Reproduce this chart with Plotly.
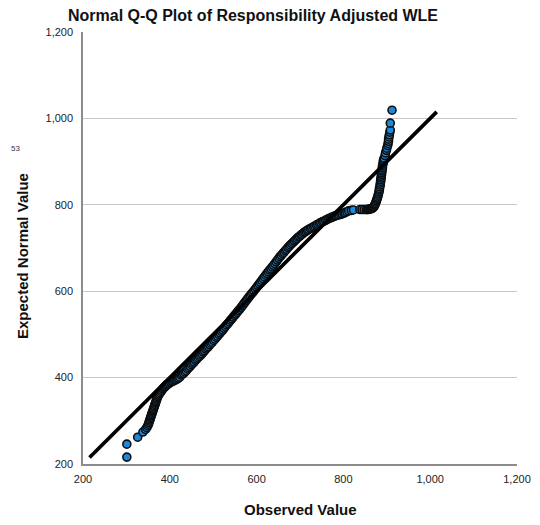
import plotly.graph_objects as go

# Observed vs expected normal values
observed = [
    301, 301, 326, 338, 344, 347, 349, 351, 352, 353,
    354, 355, 356, 357, 358, 359, 360, 361, 362, 363,
    364, 365, 366, 367, 368, 369, 370, 371, 372, 374,
    376, 378, 380, 382, 384, 386, 388, 390, 392, 394,
    396, 399, 402, 405, 408, 411, 414, 417, 420, 423,
    426, 429, 432, 435, 438, 441, 444, 447, 450, 453,
    456, 459, 462, 465, 468, 471, 474, 477, 480, 483,
    486, 489, 492, 495, 498, 501, 504, 507, 510, 513,
    516, 519, 522, 525, 528, 531, 534, 537, 540, 543,
    546, 549, 552, 555, 558, 561, 564, 567, 570, 573,
    576, 579, 582, 585, 588, 591, 594, 597, 600, 603,
    606, 609, 612, 615, 618, 621, 624, 627, 630, 633,
    636, 639, 642, 645, 648, 651, 654, 657, 660, 663,
    666, 669, 672, 675, 678, 681, 684, 687, 690, 693,
    696, 699, 702, 705, 708, 711, 714, 717, 720,
    724, 727, 731, 734, 738, 741, 745, 748, 752, 755,
    759, 762, 766, 769, 773, 776, 780, 783, 787, 790,
    794, 797, 801, 804, 808, 812, 818, 823, 838, 843,
    848, 853, 855, 857, 859, 861, 863, 865, 866, 868,
    869, 870, 871, 872, 873, 874, 875, 876, 877, 878,
    879, 880, 881, 882, 883, 883, 884, 885, 885, 886,
    886, 887, 887, 888, 888, 889, 889, 890, 890, 891,
    892, 892, 893, 894, 896, 897, 899, 900, 902, 903,
    904, 904, 905, 906, 907, 908, 908, 912,
]
expected = [
    216, 246, 262, 274, 280, 284, 288, 292, 296, 299,
    302, 305, 308, 311, 314, 317, 320, 323, 326, 329,
    332, 335, 338, 341, 344, 347, 350, 353, 356, 359,
    362, 365, 368, 371, 374, 376, 378, 380, 382, 384,
    385, 387, 389, 391, 392, 394, 395, 397, 399, 401,
    406, 408, 410, 413, 416, 420, 423, 426, 430, 433,
    436, 440, 443, 446, 449, 452, 455, 459, 462, 466,
    469, 472, 476, 479, 482, 486, 489, 493, 496, 500,
    503, 507, 510, 514, 518, 522, 525, 529, 533, 536,
    540, 544, 547, 551, 555, 558, 562, 566, 570, 574,
    578, 582, 586, 590, 594, 597, 601, 605, 609, 613,
    617, 621, 625, 629, 633, 637, 641, 645, 649, 652,
    656, 660, 664, 668, 672, 676, 680, 683, 687, 690,
    694, 697, 701, 704, 707, 710, 713, 716, 719, 722,
    725, 727, 730, 732, 735, 737, 739, 741, 743,
    745, 747, 749, 751, 753, 755, 757, 759, 761, 762,
    764, 766, 768, 769, 771, 772, 774, 775, 776, 777,
    778, 779, 781, 782, 784, 786, 787, 788, 789, 789,
    789, 789, 789, 789, 790, 790, 791, 791, 792, 793,
    794, 795, 797, 799, 801, 803, 806, 809, 812, 815,
    818, 822, 826, 830, 834, 838, 842, 846, 850, 854,
    858, 862, 866, 870, 874, 878, 882, 886, 890, 894,
    898, 902, 905, 908, 914, 920, 926, 931, 937, 942,
    947, 952, 957, 962, 968, 973, 989, 1019,
]

ref_line = [215, 1015]
tick_vals = [200, 400, 600, 800, 1000, 1200]

font_family = "Arial, Liberation Sans, sans-serif"

# page offset of the figure inside the browser window (default body margin)
OFF = 8
W, H = 540, 525
L, R, T, B = 83 - OFF, 31, 32 - OFF, 69
PW, PH = W - L - R, H - T - B


def px(xp):
    return (xp - OFF - L) / PW


def py(yp):
    return 1 - (yp - OFF - T) / PH


fig = go.Figure()
fig.add_trace(go.Scatter(
    x=observed, y=expected, mode="markers",
    marker=dict(size=8, color="#1E88D8", line=dict(color="#0d0d0d", width=1.6)),
    showlegend=False, hoverinfo="skip"))
fig.add_trace(go.Scatter(
    x=ref_line, y=ref_line, mode="lines",
    line=dict(color="black", width=3.7),
    showlegend=False, hoverinfo="skip"))

fig.update_layout(
    width=W, height=H,
    margin=dict(l=L, r=R, t=T, b=B, autoexpand=False),
    paper_bgcolor="white", plot_bgcolor="white",
    font=dict(family=font_family, color="#222222", size=11),
    title=dict(text="<b>Normal Q-Q Plot of Responsibility Adjusted WLE</b>",
               x=(253 - OFF) / W, xanchor="center", y=1 - (15 - OFF) / H, yanchor="middle",
               font=dict(size=16, color="#111111")),
    annotations=[
        dict(text="53", x=px(9), y=py(148), xref="paper", yref="paper",
             showarrow=False, font=dict(size=8, color="#333333"),
             xanchor="left", yanchor="middle"),
        dict(text="<b>Observed Value</b>", x=px(300), y=py(510), xref="paper", yref="paper",
             showarrow=False, font=dict(size=15, color="#111111"),
             xanchor="center", yanchor="middle"),
        dict(text="<b>Expected Normal Value</b>", x=px(22), y=py(256), xref="paper", yref="paper",
             showarrow=False, font=dict(size=15, color="#111111"), textangle=-90,
             xanchor="center", yanchor="middle"),
    ],
)

fig.update_xaxes(
    range=[200, 1200], tickvals=tick_vals, tickformat=",d",
    showgrid=False, zeroline=False, automargin=False,
    showline=True, linecolor="#8c8c8c", linewidth=1.5,
    ticks="", ticklabelstandoff=4,
)
fig.update_yaxes(
    range=[200, 1200], tickvals=tick_vals, tickformat=",d",
    showgrid=True, gridcolor="#c8c8c8", gridwidth=1, zeroline=False, automargin=False,
    showline=True, linecolor="#8c8c8c", linewidth=1.5,
    ticks="", ticklabelstandoff=6,
)

fig.write_html("out.html")
